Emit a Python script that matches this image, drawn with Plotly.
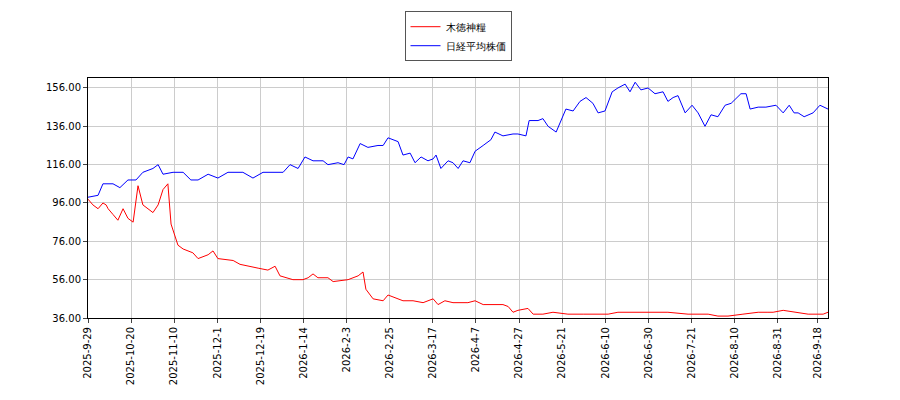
import plotly.graph_objects as go

tick_labels = ["2025-9-29","2025-10-20","2025-11-10","2025-12-1","2025-12-19","2026-1-14","2026-2-3","2026-2-25","2026-3-17","2026-4-7","2026-4-27","2026-5-21","2026-6-10","2026-6-30","2026-7-21","2026-8-10","2026-8-31","2026-9-18"]
tick_pos = [0,15,30,45,60,75,90,105,120,135,150,165,180,195,210,225,240,254]

blue_x = [0,3.5,5.2,8.7,11.1,13.9,16.7,19.1,22.6,24.4,26.1,29.6,33.1,35.8,38.3,41.8,45.2,48.7,53.9,57.4,60.9,64.4,67.9,70.3,73.1,75.5,78.3,81.8,83.5,87,89.1,90.5,92.2,94.7,97.4,100.9,102.7,104.4,107.9,109.6,112.1,113.8,115.9,118.3,120.1,121.1,122.8,125.3,127,128.8,130.5,132.9,134.7,137.5,140.2,141.6,144.4,147.9,149.6,152.4,153.5,156.6,158.3,160.1,162.9,166.3,168.8,171.2,173.3,175.7,177.5,179.9,182.4,184.4,186.9,188.6,190.4,192.4,194.9,197.3,200.1,201.8,203.6,205.3,207.8,210.2,212.3,214.7,216.8,219.2,221.7,223.8,227.2,229,230.4,233.2,235.9,239.4,241.9,244,245.7,247.1,249.2,252.3,254.7,257.5]
blue_y = [99,100,106,106,104,108,108,112,114,116,111,112,112,108,108,111,109,112,112,109,112,112,112,116,114,120,118,118,116,117,116,120,119,127,125,126,126,130,128,121,122,117,120,118,119,121,114,118,117,114,118,117,123,126,129,133,131,132,132,131,139,139,140,136,133,145,144,149,151,148,143,144,154,156,158,154,159,155,156,153,154,149,151,152,143,147,143,136,142,141,147,148,153,153,145,146,146,147,143,147,143,143,141,143,147,145]

red_x = [0,1.7,3.5,5.2,6.3,7,8.7,10.4,12.2,13.9,15.7,17.4,19.1,20.9,22.6,24.4,26.1,27.8,28.9,31.3,33.1,36.5,38.3,41.8,43.5,45.2,50.5,52.9,55.7,59.2,62.6,65.1,66.8,71.3,74.8,76.6,78.3,80,83.5,85.3,90.5,92.2,94,95.7,96.7,99.2,102.7,104.4,107.9,109.6,113.1,116.6,120.1,121.8,124.2,127,132.2,134.7,137.5,141.6,144.4,146.2,147.9,149.6,153.1,154.9,158.3,161.8,167,172.3,177.5,181,184.4,189.7,194.9,201.8,208.8,215.8,219.2,222.7,227.9,233.2,236.6,238.4,241.9,247.1,250.6,254,255.8,257.5]
red_y = [98,95,93,96,95,93,90,87,93,88,86,105,95,93,91,95,103,106,85,74,72,70,67,69,71,67,66,64,63,62,61,63,58,56,56,57,59,57,57,55,56,57,58,60,51,46,45,48,46,45,45,44,46,43,45,44,44,45,43,43,43,42,39,40,41,38,38,39,38,38,38,38,39,39,39,39,38,38,37,37,38,39,39,39,40,39,38,38,38,39,40][:90]

fig = go.Figure()
fig.add_trace(go.Scatter(x=red_x, y=red_y, mode="lines", name="木徳神糧", line=dict(color="#ff0000", width=1)))
fig.add_trace(go.Scatter(x=blue_x, y=blue_y, mode="lines", name="日経平均株価", line=dict(color="#0000ff", width=1)))
ax = dict(showline=True, linecolor="black", mirror=True, gridcolor="#cccccc", ticks="outside", ticklen=4, zeroline=False, automargin=False)
fig.update_layout(
    width=900, height=400, plot_bgcolor="white", paper_bgcolor="white",
    margin=dict(l=80, r=80, t=70, b=90, autoexpand=False),
    font=dict(family="DejaVu Sans", size=10, color="black"),
    legend=dict(x=0.5, xanchor="center", y=1.25, yanchor="bottom", bordercolor="#555", borderwidth=1, tracegroupgap=0),
    xaxis=dict(range=[0, 257.5], tickvals=tick_pos, ticktext=tick_labels, tickangle=-90, **ax),
    yaxis=dict(range=[36, 161.2], tickvals=[36,56,76,96,116,136,156], tickformat=".2f", **ax),
)
fig.update_layout(legend=dict(y=1.07))
fig.write_html("out.html")
